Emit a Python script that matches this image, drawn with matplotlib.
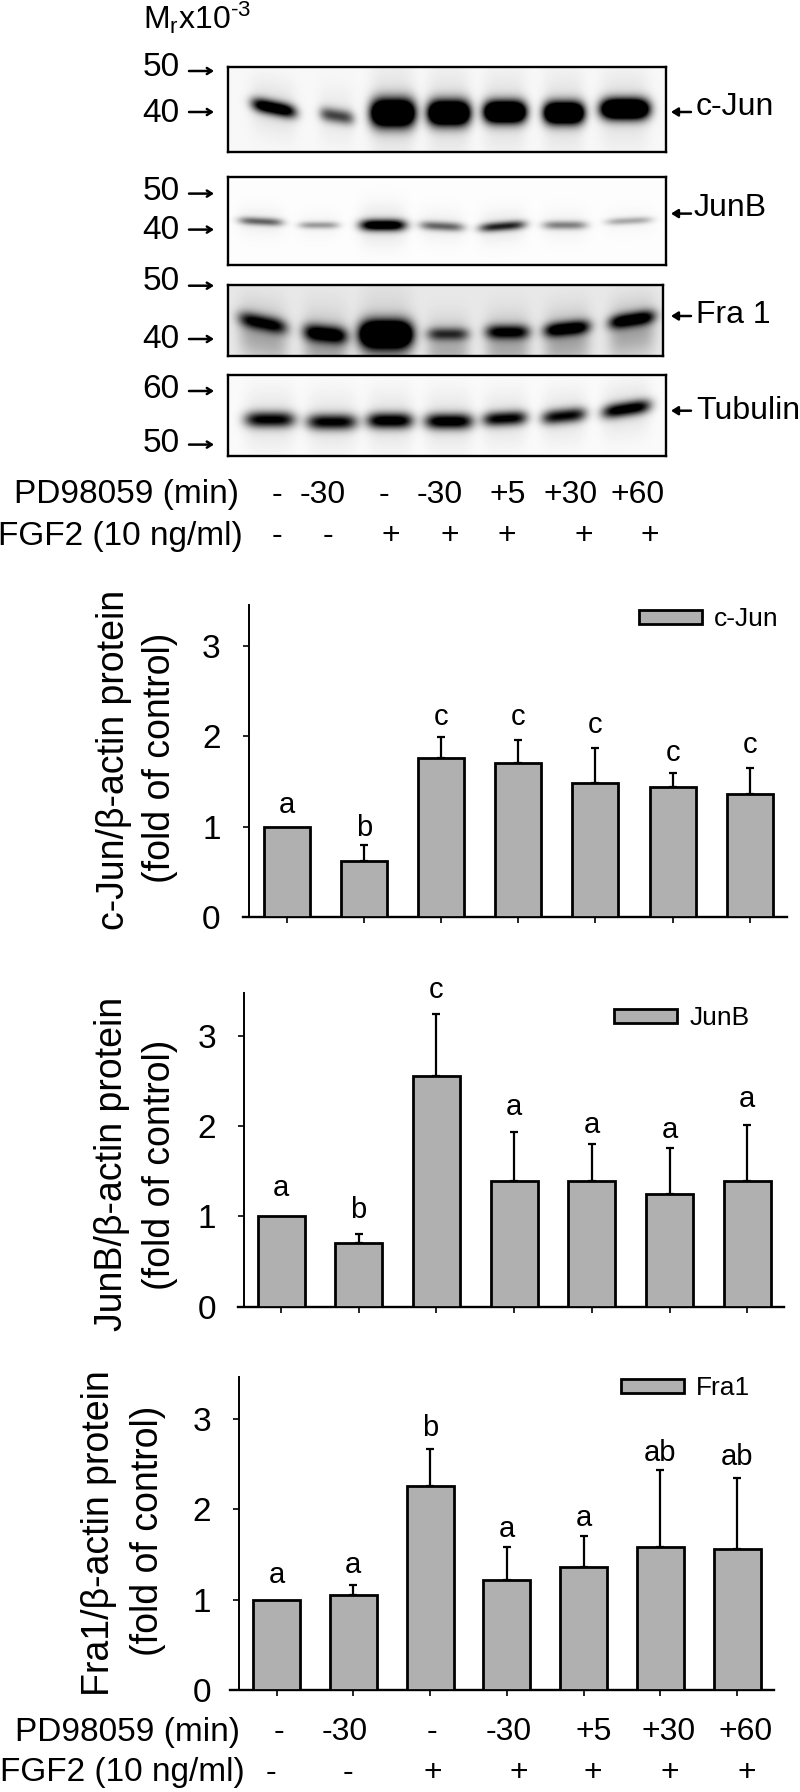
import numpy as np
import matplotlib
matplotlib.use("Agg")
import matplotlib.pyplot as plt

plt.rcParams['font.family'] = ['Liberation Sans', 'DejaVu Sans']
plt.rcParams['mathtext.fontset'] = 'custom'
plt.rcParams['mathtext.rm'] = 'Liberation Sans'
plt.rcParams['mathtext.default'] = 'rm'

W, H = 800, 1792
LANES = list(range(7))

# ---------- bar chart data ----------
cjun_vals = [1.0, 0.62, 1.76, 1.70, 1.48, 1.44, 1.36]
cjun_tops = [None, 0.80, 1.99, 1.96, 1.87, 1.59, 1.65]
cjun_letters = ['a', 'b', 'c', 'c', 'c', 'c', 'c']
cjun_letter_y = [1.24, 0.99, 2.21, 2.21, 2.13, 1.82, 1.91]

junb_vals = [1.0, 0.71, 2.55, 1.39, 1.39, 1.25, 1.39]
junb_tops = [None, 0.80, 3.24, 1.93, 1.80, 1.76, 2.01]
junb_letters = ['a', 'b', 'c', 'a', 'a', 'a', 'a']
junb_letter_y = [1.32, 1.07, 3.51, 2.21, 2.01, 1.96, 2.30]

fra1_vals = [1.0, 1.05, 2.26, 1.22, 1.36, 1.58, 1.56]
fra1_tops = [None, 1.16, 2.67, 1.58, 1.70, 2.44, 2.35]
fra1_letters = ['a', 'a', 'b', 'a', 'a', 'ab', 'ab']
fra1_letter_y = [1.27, 1.38, 2.90, 1.78, 1.90, 2.63, 2.58]

y_ticks = [0, 1, 2, 3]

# ---------- blot data: one entry per lane ----------
cjun_band_y = [109, 117, 114, 114, 113, 114, 110]
cjun_band_x = [274, 337, 393, 449, 505, 564, 625]
cjun_band_hw = [22, 17, 22, 21, 21, 20, 24]
cjun_band_sd = [5, 5, 9.5, 8.5, 7.5, 7.5, 7]
cjun_band_amt = [1.2, 0.65, 2.0, 2.0, 2.0, 2.0, 2.0]
cjun_band_tilt = [0.2, 0.15, 0, 0, 0, 0, 0]

junb_band_y = [222, 225.7, 225.7, 226.8, 226.8, 225.7, 221.4]
junb_band_x = [261, 319, 383, 442, 502.5, 565, 629]
junb_band_hw = [22, 20, 23, 22, 23, 22, 23]
junb_band_sd = [2.8, 2.5, 4, 3.2, 3.2, 3, 2.5]
junb_band_amt = [0.55, 0.35, 1.2, 0.55, 0.8, 0.45, 0.3]
junb_band_tilt = [0.05, 0, 0, 0.05, -0.08, 0, -0.05]

fra1_band_y = [323, 334, 334, 334, 332, 328.6, 319.6]
fra1_band_x = [263, 325.5, 386, 448, 507.6, 567, 632]
fra1_band_hw = [24, 22, 26, 21, 22, 23, 23]
fra1_band_sd = [5.5, 6, 9, 4.5, 5, 5, 5]
fra1_band_amt = [0.85, 1.0, 2.0, 0.6, 0.85, 1.0, 1.0]
fra1_band_tilt = [0.2, 0.1, 0, 0, 0, -0.1, -0.15]

tub_band_y = [419.6, 422, 420.7, 421.4, 418.6, 416, 409]
tub_band_x = [270, 332, 390, 449, 505, 564, 626.5]
tub_band_hw = [25, 25, 23, 24, 22, 22, 24]
tub_band_sd = [5.5, 5.5, 5.5, 5.5, 5, 5, 5]
tub_band_amt = [0.95, 0.95, 1.05, 1.05, 0.95, 0.9, 1.05]
tub_band_tilt = [0, 0, 0, 0, -0.05, -0.1, -0.15]

# ---------- labels ----------
pd_labels = ['-', '-30', '-', '-30', '+5', '+30', '+60']
fgf_labels = ['-', '-', '+', '+', '+', '+', '+']

fig = plt.figure(figsize=(W / 100, H / 100), dpi=100, facecolor='white')


def rect(x0, y0, x1, y1):
    return [x0 / W, 1 - y1 / H, (x1 - x0) / W, (y1 - y0) / H]


def blot(box, xs, ys, hws, sds, amts, tilts, haze=0.0, base=0.03):
    x0, y0, x1, y1 = box
    ax = fig.add_axes(rect(x0, y0, x1, y1))
    gx, gy = np.meshgrid(np.arange(x0, x1) + 0.5, np.arange(y0, y1) + 0.5)
    dark = np.full(gx.shape, base, dtype=float)
    for xc, yc, hw, sd, amt, tilt in zip(xs, ys, hws, sds, amts, tilts):
        prof_x = np.exp(-((gx - xc) / hw) ** 4)
        centre = yc + tilt * (gx - xc)
        dark += amt * prof_x * np.exp(-0.5 * ((gy - centre) / sd) ** 2)
        dark += 0.10 * np.minimum(amt, 1) * prof_x * np.exp(-0.5 * ((gy - centre) / (sd * 3.5)) ** 2)
        if haze:
            dark += haze * prof_x * np.exp(-0.5 * ((gy - centre - 16) / 16) ** 2)
    ax.imshow(1 - np.clip(dark, 0, 1), cmap='gray', vmin=0, vmax=1, aspect='auto',
              extent=(x0, x1, y1, y0), interpolation='bilinear')
    ax.set_xticks([])
    ax.set_yticks([])
    for s in ax.spines.values():
        s.set_linewidth(1.7)
        s.set_color('black')


blot((228, 67, 666, 152.5), cjun_band_x, cjun_band_y, cjun_band_hw, cjun_band_sd, cjun_band_amt, cjun_band_tilt)
blot((228, 177.5, 666, 265), junb_band_x, junb_band_y, junb_band_hw, junb_band_sd, junb_band_amt, junb_band_tilt, base=0.01)
blot((228, 285, 663, 356), fra1_band_x, fra1_band_y, fra1_band_hw, fra1_band_sd, fra1_band_amt, fra1_band_tilt, haze=0.2, base=0.09)
blot((228, 375, 666, 456), tub_band_x, tub_band_y, tub_band_hw, tub_band_sd, tub_band_amt, tub_band_tilt, base=0.02)


def bars(name, vals, tops, letters, letter_y, ax_left, spine_x, ax_right, top_px, base_px,
         first_c, step, bar_w, tick_pad, legend_xy):
    ax = fig.add_axes(rect(ax_left, top_px, ax_right, base_px))
    ax.patch.set_alpha(0)
    ax.set_xlim((ax_left - first_c) / step, (ax_right - first_c) / step)
    ax.set_ylim(0, (base_px - top_px) / 90.3)
    cont = ax.bar(LANES, vals, width=bar_w / step, color='#b0b0b0', edgecolor='black',
                  linewidth=2.0, label=name, zorder=3)
    for x, v, t in zip(LANES, vals, tops):
        if t is not None:
            ax.errorbar(x, v, yerr=[[0], [t - v]], fmt='none', ecolor='black', elinewidth=1.6,
                        capsize=3, capthick=1.6, zorder=2)
    for x, s, y in zip(LANES, letters, letter_y):
        ax.text(x, y, s, ha='center', va='center', fontsize=21)
    for s in ('top', 'right'):
        ax.spines[s].set_visible(False)
    ax.spines['left'].set_position(('data', (spine_x - first_c) / step))
    ax.spines['left'].set_linewidth(1.4)
    ax.spines['bottom'].set_linewidth(1.7)
    ax.set_xticks(LANES)
    ax.set_xticklabels([])
    ax.set_yticks(y_ticks)
    ax.tick_params(axis='x', length=4, width=1.2)
    ax.tick_params(axis='y', length=4, width=1.2, labelsize=24, pad=tick_pad)
    leg_x, leg_y = legend_xy
    ax.legend(handles=[cont], loc='upper left', frameon=False, fontsize=19,
              bbox_to_anchor=(leg_x / W, 1 - leg_y / H), bbox_transform=fig.transFigure,
              borderpad=0, borderaxespad=0, handlelength=2.4, handleheight=0.45, handletextpad=0.45)
    return ax


bars('c-Jun', cjun_vals, cjun_tops, cjun_letters, cjun_letter_y,
     243, 248.5, 787, 605, 917, 286.6, 77.2, 46, 16, (639, 607))
bars('JunB', junb_vals, junb_tops, junb_letters, junb_letter_y,
     237.5, 244, 784, 993, 1306.7, 281, 77.7, 47, 16, (614, 1006))
bars('Fra1', fra1_vals, fra1_tops, fra1_letters, fra1_letter_y,
     229.6, 238.8, 774.5, 1376.7, 1690, 276.5, 76.8, 47, 16, (621, 1376))

# ---------- overlay in picture coordinates for annotation ----------
ov = fig.add_axes([0, 0, 1, 1], zorder=10)
ov.set_xlim(0, W)
ov.set_ylim(H, 0)
ov.axis('off')
ov.patch.set_alpha(0)

ov.text(143, 18, r'M$_{r}$x10$^{\text{-3}}$', fontsize=23, ha='left', va='center')

mw_text = [('50', 68, 71), ('40', 113, 112), ('50', 192, 193.6), ('40', 230.6, 229.6),
           ('50', 282, 285.7), ('40', 339.5, 339), ('60', 389.5, 391), ('50', 443, 444.6)]
for s, ty, ay in mw_text:
    ov.text(161, ty, s, fontsize=24, ha='center', va='center')
    ov.annotate('', xy=(214, ay), xytext=(189, ay),
                arrowprops=dict(arrowstyle='->,head_length=0.35,head_width=0.22', lw=1.8, color='black', shrinkA=0, shrinkB=0))

right_labels = [('c-Jun', 696, 107, 112), ('JunB', 694, 208, 213.6), ('Fra 1', 696, 315, 316), ('Tubulin', 696, 411, 410.7)]
for s, tx, ty, ay in right_labels:
    ov.text(tx, ty, s, fontsize=23, ha='left', va='center')
    ov.annotate('', xy=(671, ay), xytext=(691, ay),
                arrowprops=dict(arrowstyle='-|>,head_length=0.4,head_width=0.25', lw=1.8, color='black',
                                shrinkA=0, shrinkB=0, fc='black'))

ov.text(239, 495, 'PD98059 (min)', fontsize=24, ha='right', va='center')
for x, s in zip([276.5, 323, 384, 440, 507.6, 571, 638], pd_labels):
    ov.text(x, 495, s, fontsize=23, ha='center', va='center')
ov.text(243, 536, 'FGF2 (10 ng/ml)', fontsize=24, ha='right', va='center')
for x, s in zip([276.5, 328, 391, 450, 507, 584, 650], fgf_labels):
    ov.text(x, 536, s, fontsize=23, ha='center', va='center')

ov.text(240, 1732, 'PD98059 (min)', fontsize=24, ha='right', va='center')
for x, s in zip([279, 345, 432, 509, 594, 669, 746], pd_labels):
    ov.text(x, 1732, s, fontsize=23, ha='center', va='center')
ov.text(245, 1773, 'FGF2 (10 ng/ml)', fontsize=24, ha='right', va='center')
for x, s in zip([271, 348, 433, 519, 593, 670, 747], fgf_labels):
    ov.text(x, 1773, s, fontsize=23, ha='center', va='center')

ylabels = [('c-Jun/β-actin protein', 114, 760), ('(fold of control)', 160, 758),
           ('JunB/β-actin protein', 112, 1164), ('(fold of control)', 160, 1165),
           ('Fra1/β-actin protein', 99.5, 1533), ('(fold of control)', 148, 1531)]
for s, x, y in ylabels:
    ov.text(x, y, s, fontsize=27, rotation=90, ha='center', va='center')

fig.savefig('out.png', dpi=100, facecolor='white')
